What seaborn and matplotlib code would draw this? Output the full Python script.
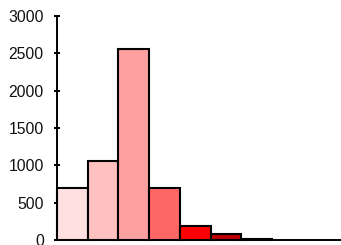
import matplotlib
matplotlib.use("Agg")
import matplotlib.pyplot as plt
import seaborn as sns
import pandas as pd

categories = ["1", "2", "3", "4", "5", "6", "7"]
values = [700, 1060, 2560, 700, 185, 75, 20]
colors = ["#FFE0E0", "#FFC0C0", "#FFA0A0", "#FF6666", "#FF0000", "#C00000", "#800000"]
yticks = [0, 500, 1000, 1500, 2000, 2500, 3000]

sns.set_style("white")
plt.rcParams["font.family"] = ["Liberation Sans", "DejaVu Sans"]

df = pd.DataFrame({"cat": categories, "val": values})

fig = plt.figure(figsize=(3.41, 2.45), dpi=100)
ax = fig.add_axes([57 / 341, 5 / 245, 1 - 57 / 341, 224 / 245])
sns.barplot(data=df, x="cat", y="val", hue="cat", palette=colors, legend=False,
            width=1.0, edgecolor="black", linewidth=1.5, saturation=1, ax=ax)

ax.set_xlim(-0.5, 8.75)
ax.set_ylim(0, 3000)
ax.set_yticks(yticks)
ax.set_yticklabels([str(t) for t in yticks], fontsize=11.3, color="#111111")
ax.set_xticks([])
ax.set_xlabel("")
ax.set_ylabel("")
for s in ["top", "right"]:
    ax.spines[s].set_visible(False)
for s in ["left", "bottom"]:
    ax.spines[s].set_linewidth(1.4)
    ax.spines[s].set_color("black")
ax.tick_params(axis="y", direction="inout", length=5, width=1.4, color="black", pad=7, left=True)
for p in ax.patches:
    p.set_clip_on(False)

fig.savefig("out.png", dpi=100)
